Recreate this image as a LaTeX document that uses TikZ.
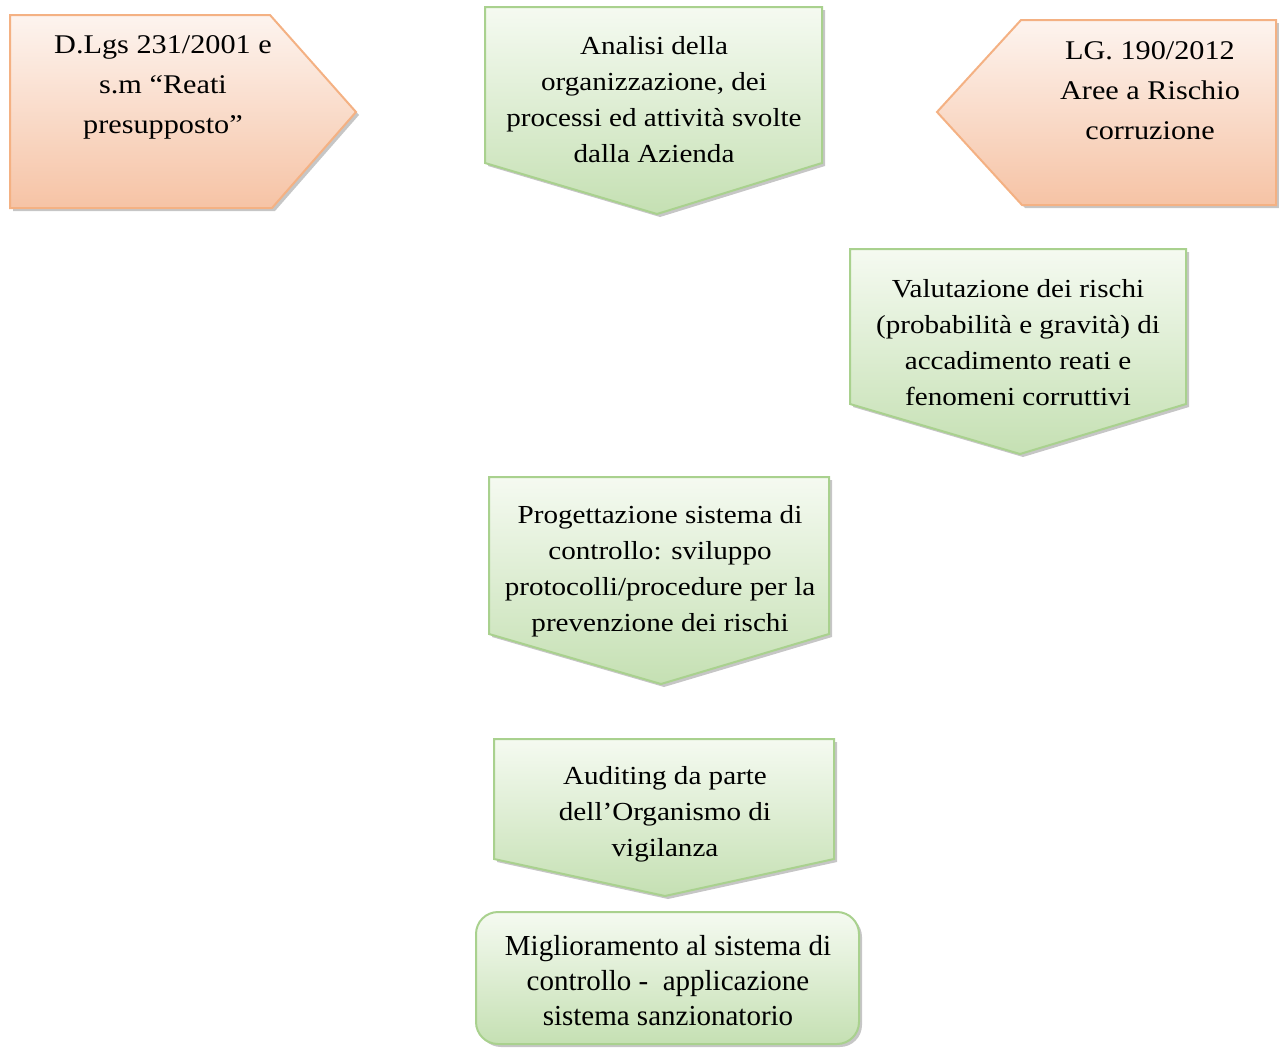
\documentclass[tikz,border=0pt]{standalone}
\usepackage{fontspec}
\setmainfont{Liberation Serif}[FakeStretch=1.12]
\newfontfamily\timesfont{Liberation Serif}
\definecolor{orTop}{HTML}{FDF4EF}
\definecolor{orBot}{HTML}{F6C3A5}
\definecolor{orLine}{HTML}{F4B183}
\definecolor{grTop}{HTML}{F5FAF1}
\definecolor{grBot}{HTML}{C5E0B3}
\definecolor{grLine}{HTML}{A9D18E}
\tikzset{
  orangebox/.style={top color=orTop, bottom color=orBot, draw=orLine, line width=2pt, line join=miter},
  greenbox/.style={top color=grTop, bottom color=grBot, draw=grLine, line width=2pt, line join=miter},
  shadowbox/.style={fill=black!50, opacity=0.45},
  bigtxt/.style={align=center, font=\fontsize{27}{40}\selectfont, inner sep=0pt},
  midtxt/.style={align=center, font=\fontsize{26}{36}\selectfont, inner sep=0pt},
}
\begin{document}
\begin{tikzpicture}[x=1pt,y=-1pt]
\useasboundingbox (0,0) rectangle (1279,1047);
% left pentagon
\fill[shadowbox,shift={(3,3)}] (10,15) -- (270,15) -- (356,112) -- (272,208) -- (10,208) -- cycle;
\path[orangebox] (10,15) -- (270,15) -- (356,112) -- (272,208) -- (10,208) -- cycle;
\node[bigtxt] (dlgs) at (163,87) {D.Lgs 231/2001 e\\s.m “Reati\\presupposto”};
% right pentagon
\fill[shadowbox,shift={(3,3)}] (1021,20) -- (1276,20) -- (1276,205) -- (1022,205) -- (937,112) -- cycle;
\path[orangebox] (1021,20) -- (1276,20) -- (1276,205) -- (1022,205) -- (937,112) -- cycle;
\node[bigtxt] (lg) at (1150,91) {LG. 190/2012\\Aree a Rischio\\corruzione};
% Analisi
\fill[shadowbox,shift={(3,3)}] (485,7) -- (822,7) -- (822,163) -- (657,214) -- (485,163) -- cycle;
\path[greenbox] (485,7) -- (822,7) -- (822,163) -- (657,214) -- (485,163) -- cycle;
\node[midtxt] (analisi) at (654,100) {Analisi della\\organizzazione, dei\\processi ed attività svolte\\dalla Azienda};
% Valutazione
\fill[shadowbox,shift={(3,3)}] (850,249) -- (1186,249) -- (1186,404) -- (1020,454) -- (850,404) -- cycle;
\path[greenbox] (850,249) -- (1186,249) -- (1186,404) -- (1020,454) -- (850,404) -- cycle;
\node[midtxt] (valut) at (1018,343) {Valutazione dei rischi\\(probabilità e gravità) di\\accadimento reati e\\fenomeni corruttivi};
% Progettazione
\fill[shadowbox,shift={(3,3)}] (489,477) -- (829,477) -- (829,634) -- (661,684) -- (489,634) -- cycle;
\path[greenbox] (489,477) -- (829,477) -- (829,634) -- (661,684) -- (489,634) -- cycle;
\node[midtxt] (prog) at (660,571) {Progettazione sistema di\\controllo: sviluppo\\protocolli/procedure per la\\prevenzione dei rischi};
% Auditing
\fill[shadowbox,shift={(3,3)}] (494,739) -- (834,739) -- (834,859) -- (665,896) -- (494,859) -- cycle;
\path[greenbox] (494,739) -- (834,739) -- (834,859) -- (665,896) -- (494,859) -- cycle;
\node[midtxt] (audit) at (665,814) {Auditing da parte\\dell’Organismo di\\vigilanza};
% Miglioramento
\fill[shadowbox,shift={(3,3)},rounded corners=22pt] (476,912) rectangle (859,1044);
\path[greenbox,rounded corners=22pt] (476,912) rectangle (859,1044);
\node[align=center, font=\timesfont\fontsize{29}{35}\selectfont, inner sep=0pt] (migl) at (668,981) {Miglioramento al sistema di\\controllo -\ \ applicazione\\sistema sanzionatorio};
\end{tikzpicture}
\end{document}
